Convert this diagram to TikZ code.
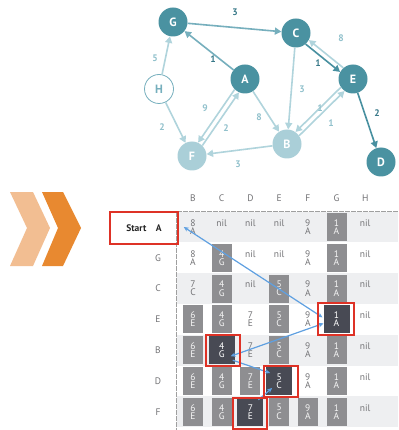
\documentclass[tikz,border=0pt]{standalone}
\usepackage{fontspec}
\setmainfont{PT Sans}
\setsansfont{PT Sans}
\usetikzlibrary{arrows.meta,calc}
\definecolor{tdark}{RGB}{74,146,161}
\definecolor{tlight}{RGB}{170,207,216}
\definecolor{edgeL}{RGB}{176,212,220}
\definecolor{edgeM}{RGB}{118,175,189}
\definecolor{edgeD}{RGB}{72,144,160}
\definecolor{labD}{RGB}{55,120,136}
\definecolor{labL}{RGB}{145,193,204}
\definecolor{chevL}{RGB}{242,190,146}
\definecolor{chevD}{RGB}{232,137,48}
\definecolor{cellG}{RGB}{142,142,145}
\definecolor{cellK}{RGB}{72,74,84}
\definecolor{band}{RGB}{238,239,241}
\definecolor{redbox}{RGB}{222,50,38}
\definecolor{blueA}{RGB}{95,160,225}
\definecolor{txtG}{RGB}{115,115,118}
\tikzset{
  gnode/.style={circle, minimum size=29pt, inner sep=0pt, font=\fontsize{12}{13}\selectfont\bfseries, text=white},
  dk/.style={gnode, fill=tdark},
  lt/.style={gnode, fill=tlight},
  hn/.style={gnode, fill=white, draw=edgeM, line width=0.8pt, text=edgeM},
  eL/.style={draw=edgeL, line width=1.6pt, -{Triangle[length=6.5pt,width=7pt]}},
  eM/.style={draw=edgeM, line width=1.6pt, -{Triangle[length=6.5pt,width=7pt]}},
  eD/.style={draw=edgeD, line width=1.6pt, -{Triangle[length=6.5pt,width=7pt]}},
  twin/.style={shorten <=14.5pt, shorten >=14.5pt},
  lD/.style={font=\fontsize{9.5}{10}\selectfont\bfseries, text=labD, inner sep=0pt},
  lL/.style={font=\fontsize{9.5}{10}\selectfont\bfseries, text=labL, inner sep=0pt},
  hdr/.style={font=\fontsize{9.5}{10}\selectfont, text=txtG, inner sep=0pt},
  cplain/.style={minimum width=20pt, minimum height=28pt, inner sep=0pt, align=center,
    font=\fontsize{9.5}{9.2}\selectfont, text=txtG},
  cgray/.style={cplain, fill=cellG, text=white!92!gray},
  cdark/.style={cplain, fill=cellK, minimum width=26pt, text=white},
  redline/.style={draw=redbox, line width=2pt},
  barrow/.style={draw=blueA, line width=1.2pt},
  btip/.style={-{Stealth[length=5pt,width=4.5pt]}},
}
\begin{document}
\begin{tikzpicture}[x=1pt,y=-1pt]
\useasboundingbox (0,0) rectangle (398,430);
\fill[white] (0,0) rectangle (398,430);

% chevrons
\fill[chevL] (10,192) -- (33,192) -- (50,228) -- (33,266) -- (10,266) -- (27,228) -- cycle;
\fill[chevD] (42,192) -- (63,192) -- (81,228) -- (63,266) -- (42,266) -- (58,228) -- cycle;

% graph nodes
\node[dk] (G) at (173,22) {G};
\node[dk] (C) at (296,33) {C};
\node[dk] (E) at (353,79) {E};
\node[dk] (A) at (245,79) {A};
\node[hn] (H) at (159,89) {H};
\node[lt] (B) at (287,144) {B};
\node[lt] (F) at (192,156) {F};
\node[dk] (D) at (381,162) {D};

% graph edges
\draw[eM] (G) -- (C);
\draw[eM] (A) -- (G);
\draw[eL] (H) -- (G);
\draw[eL] (H) -- (F);
\draw[eL] (A) -- (B);
\draw[eL] (B) -- (F);
\draw[eL] (C) -- (B);
\draw[eD] (E) -- (D);
\draw[eL,twin] ($(A)!2.6pt!-90:(F)$) -- ($(F)!2.6pt!90:(A)$);
\draw[eL,twin] ($(F)!2.6pt!-90:(A)$) -- ($(A)!2.6pt!90:(F)$);
\draw[eL,twin] ($(E)!2.6pt!-90:(C)$) -- ($(C)!2.6pt!90:(E)$);
\draw[eD,twin] ($(C)!2.6pt!-90:(E)$) -- ($(E)!2.6pt!90:(C)$);
\draw[eL,twin] ($(B)!2.6pt!-90:(E)$) -- ($(E)!2.6pt!90:(B)$);
\draw[eL,twin] ($(E)!2.6pt!-90:(B)$) -- ($(B)!2.6pt!90:(E)$);

% edge labels
\node[lD] (l1) at (235,12) {3};
\node[lD] (l2) at (213,59) {1};
\node[lL] (l3) at (155,58) {5};
\node[lL] (l4) at (162,127) {2};
\node[lL] (l5) at (259,117) {8};
\node[lL] (l6) at (205,108) {9};
\node[lL] (l7) at (226,128) {2};
\node[lL] (l8) at (238,164) {3};
\node[lL] (l9) at (302,89) {3};
\node[lD] (l10) at (318,63) {1};
\node[lL] (l11) at (341,38) {8};
\node[lL] (l12) at (320,108) {1};
\node[lL] (l13) at (331,123) {1};
\node[lD] (l14) at (377,113) {2};

% table bands
\foreach \r in {0,2,4,6}{
  \fill[band] (177,{211.6+30.8*\r}) rectangle (398,{242.4+30.8*\r});
}
\draw[gray!75, line width=0.8pt, dash pattern=on 5pt off 1pt] (177,211.6) -- (398,211.6);
\draw[gray!75, line width=0.8pt, dash pattern=on 5pt off 1pt] (176.5,211.6) -- (176.5,430);

% headers
\foreach \c/\t in {0/B,1/C,2/D,3/E,4/F,5/G,6/H}{
  \node[hdr] (h\c) at ({193+28.7*\c},198) {\t};
}
% row labels
\foreach \r/\t in {1/G,2/C,3/E,4/B,5/D,6/F}{
  \node[hdr] (rl\r) at (158,{227+30.8*\r}) {\t};
}
\node[redline, line width=1.5pt, minimum width=68pt, minimum height=32pt, inner sep=0pt, font=\fontsize{9.5}{10}\selectfont\bfseries, text=black!85] (startA) at (144,228) {Start\quad A};

% cells: row/col/top/bottom/style
\foreach \r/\c/\a/\b/\s in {
 0/0/8/A/cplain, 0/1/nil//cplain, 0/2/nil//cplain, 0/3/nil//cplain, 0/4/9/A/cplain, 0/5/1/A/cgray, 0/6/nil//cplain,
 1/0/8/A/cplain, 1/1/4/G/cgray, 1/2/nil//cplain, 1/3/nil//cplain, 1/4/9/A/cplain, 1/5/1/A/cgray, 1/6/nil//cplain,
 2/0/7/C/cplain, 2/1/4/G/cgray, 2/2/nil//cplain, 2/3/5/C/cgray, 2/4/9/A/cplain, 2/5/1/A/cgray, 2/6/nil//cplain,
 3/0/6/E/cgray, 3/1/4/G/cgray, 3/2/7/E/cplain, 3/3/5/C/cgray, 3/4/9/A/cplain, 3/5/1/A/cdark, 3/6/nil//cplain,
 4/0/6/E/cgray, 4/1/4/G/cdark, 4/2/7/E/cplain, 4/3/5/C/cgray, 4/4/9/A/cplain, 4/5/1/A/cgray, 4/6/nil//cplain,
 5/0/6/E/cgray, 5/1/4/G/cgray, 5/2/7/E/cgray, 5/3/5/C/cdark, 5/4/9/A/cplain, 5/5/1/A/cgray, 5/6/nil//cplain,
 6/0/6/E/cgray, 6/1/4/G/cgray, 6/2/7/E/cdark, 6/3/5/C/cgray, 6/4/9/A/cgray, 6/5/1/A/cgray, 6/6/nil//cplain}{
  \node[\s] (c-\r-\c) at ({193+28.7*\c},{227+30.8*\r}) {\a\\[-1pt]\b};
}

% blue trace arrows
\draw[barrow, {Stealth[length=5pt,width=4.5pt]}-{Stealth[length=5pt,width=4.5pt]}]
  ($(startA.east)+(5,-1)$) -- ($(c-3-5)+(-14,-2)$);
\draw[barrow, {Stealth[length=5pt,width=4.5pt]}-{Stealth[length=5pt,width=4.5pt]}]
  ($(c-4-1)+(9,6)$) -- ($(c-3-5)+(-13,4)$);
\draw[barrow, btip] ($(c-4-1)+(11,10)$) -- ($(c-5-3)+(-9,-8)$);
\draw[barrow, btip] ($(c-6-2)+(8,-12)$) -- ($(c-5-3)+(-7,7)$);

% red boxes
\draw[redline] ($(c-4-1)+(-16,-15)$) rectangle ($(c-4-1)+(18,16)$);
\draw[redline] ($(c-3-5)+(-19,-16)$) rectangle ($(c-3-5)+(17,16)$);
\draw[redline] ($(c-6-2)+(-17.5,-14)$) rectangle ($(c-6-2)+(16.5,17)$);
\draw[redline] ($(c-5-3)+(-15.5,-15)$) rectangle ($(c-5-3)+(18.5,16)$);
\end{tikzpicture}
\end{document}
